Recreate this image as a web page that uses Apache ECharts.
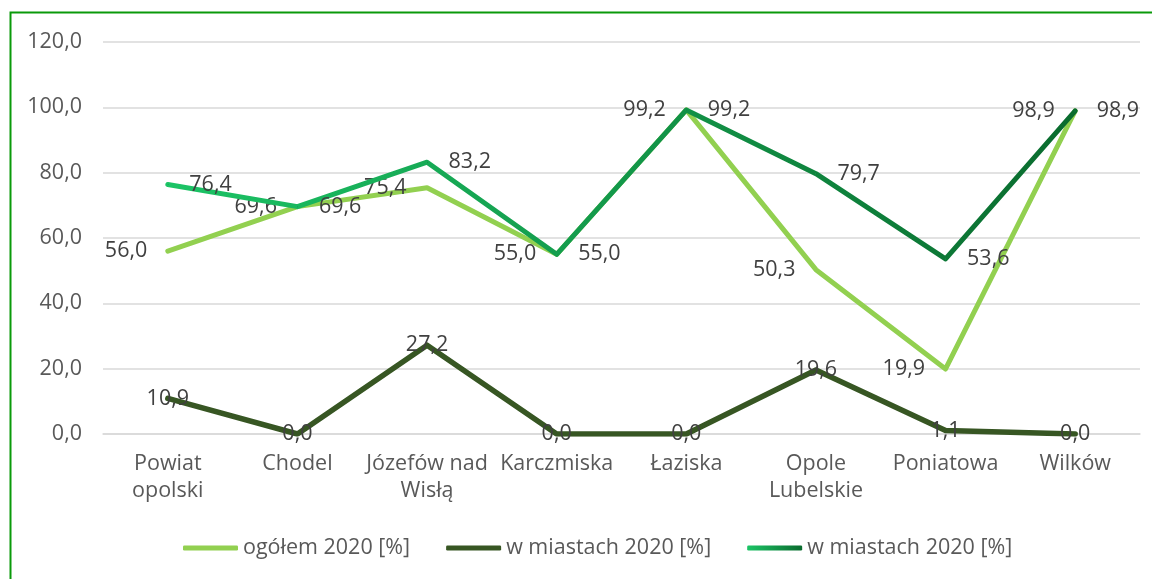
<!DOCTYPE html>
<html>
<head>
<meta charset="utf-8">
<script src="https://cdn.jsdelivr.net/npm/echarts@6/dist/echarts.min.js"></script>
<style>
  html, body { margin: 0; padding: 0; background: #ffffff; }
  #chart { width: 1152px; height: 579px; }
</style>
</head>
<body>
<div id="chart"></div>
<script>
// Gminy powiatu opolskiego
const categories = ['Powiat\nopolski', 'Chodel', 'Józefów nad\nWisłą', 'Karczmiska', 'Łaziska', 'Opole\nLubelskie', 'Poniatowa', 'Wilków'];

// Odsetek [%] w 2020 r.
const ogolem2020 = [56.0, 69.6, 75.4, 55.0, 99.2, 50.3, 19.9, 98.9];
const wMiastach2020a = [10.9, 0.0, 27.2, 0.0, 0.0, 19.6, 1.1, 0.0];
const wMiastach2020b = [76.4, 69.6, 83.2, 55.0, 99.2, 79.7, 53.6, 98.9];

const seriesNames = ['ogółem 2020 [%]', 'w miastach 2020 [%]', 'w miastach 2020 [%] '];
const yTicks = { min: 0, max: 120, interval: 20 };

const fontFamily = '"Open Sans", "Noto Sans", sans-serif';
const fontSize = 21.5;
const fmt = v => v.toFixed(1).replace('.', ',');

const greenGradient = new echarts.graphic.LinearGradient(0, 0, 1, 0, [
  { offset: 0, color: '#1CC466' },
  { offset: 1, color: '#0A6B2E' }
]);

const labelBase = {
  show: true,
  fontFamily: fontFamily,
  fontSize: fontSize,
  color: '#404040',
  formatter: p => fmt(p.value)
};

const chart = echarts.init(document.getElementById('chart'), null, { renderer: 'canvas' });
chart.setOption({
  animation: false,
  backgroundColor: '#ffffff',
  graphic: [{
    type: 'rect',
    silent: true,
    shape: { x: 10.5, y: 12.5, width: 1300, height: 800 },
    style: { fill: 'none', stroke: '#0A9A0A', lineWidth: 2 }
  }],
  grid: { left: 103, right: 12, top: 42, bottom: 145 },
  legend: {
    bottom: 15,
    left: 178,
    itemWidth: 55,
    itemHeight: 5,
    itemGap: 36,
    icon: 'roundRect',
    textStyle: { fontFamily: fontFamily, fontSize: fontSize, color: '#595959' },
    data: seriesNames.map(n => ({ name: n, icon: 'roundRect' }))
  },
  xAxis: {
    type: 'category',
    data: categories,
    boundaryGap: true,
    axisLine: { show: true, lineStyle: { color: '#D9D9D9', width: 1.5 } },
    axisTick: { show: false },
    axisLabel: {
      interval: 0,
      margin: 16,
      fontFamily: fontFamily,
      fontSize: fontSize,
      lineHeight: 27,
      color: '#595959'
    }
  },
  yAxis: {
    type: 'value',
    min: yTicks.min,
    max: yTicks.max,
    interval: yTicks.interval,
    axisLine: { show: false },
    axisTick: { show: false },
    splitLine: { lineStyle: { color: '#D9D9D9', width: 1.5 } },
    axisLabel: {
      margin: 21,
      fontFamily: fontFamily,
      fontSize: fontSize,
      color: '#595959',
      formatter: v => fmt(v)
    }
  },
  series: [
    {
      name: seriesNames[0],
      type: 'line',
      data: ogolem2020,
      symbol: 'circle',
      symbolSize: 1,
      itemStyle: { color: '#92D050' },
      lineStyle: { color: '#92D050', width: 5, cap: 'round', join: 'round' },
      label: Object.assign({}, labelBase, { position: 'left', distance: 20 }),
      z: 2
    },
    {
      name: seriesNames[1],
      type: 'line',
      data: wMiastach2020a,
      symbol: 'circle',
      symbolSize: 1,
      itemStyle: { color: '#375623' },
      lineStyle: { color: '#375623', width: 5.5, cap: 'round', join: 'round' },
      label: Object.assign({}, labelBase, { position: 'inside' }),
      z: 3
    },
    {
      name: seriesNames[2],
      type: 'line',
      data: wMiastach2020b,
      symbol: 'circle',
      symbolSize: 1,
      itemStyle: { color: greenGradient },
      lineStyle: { color: greenGradient, width: 5, cap: 'round', join: 'round' },
      label: Object.assign({}, labelBase, { position: 'right', distance: 21 }),
      z: 4
    }
  ]
});
</script>
</body>
</html>
